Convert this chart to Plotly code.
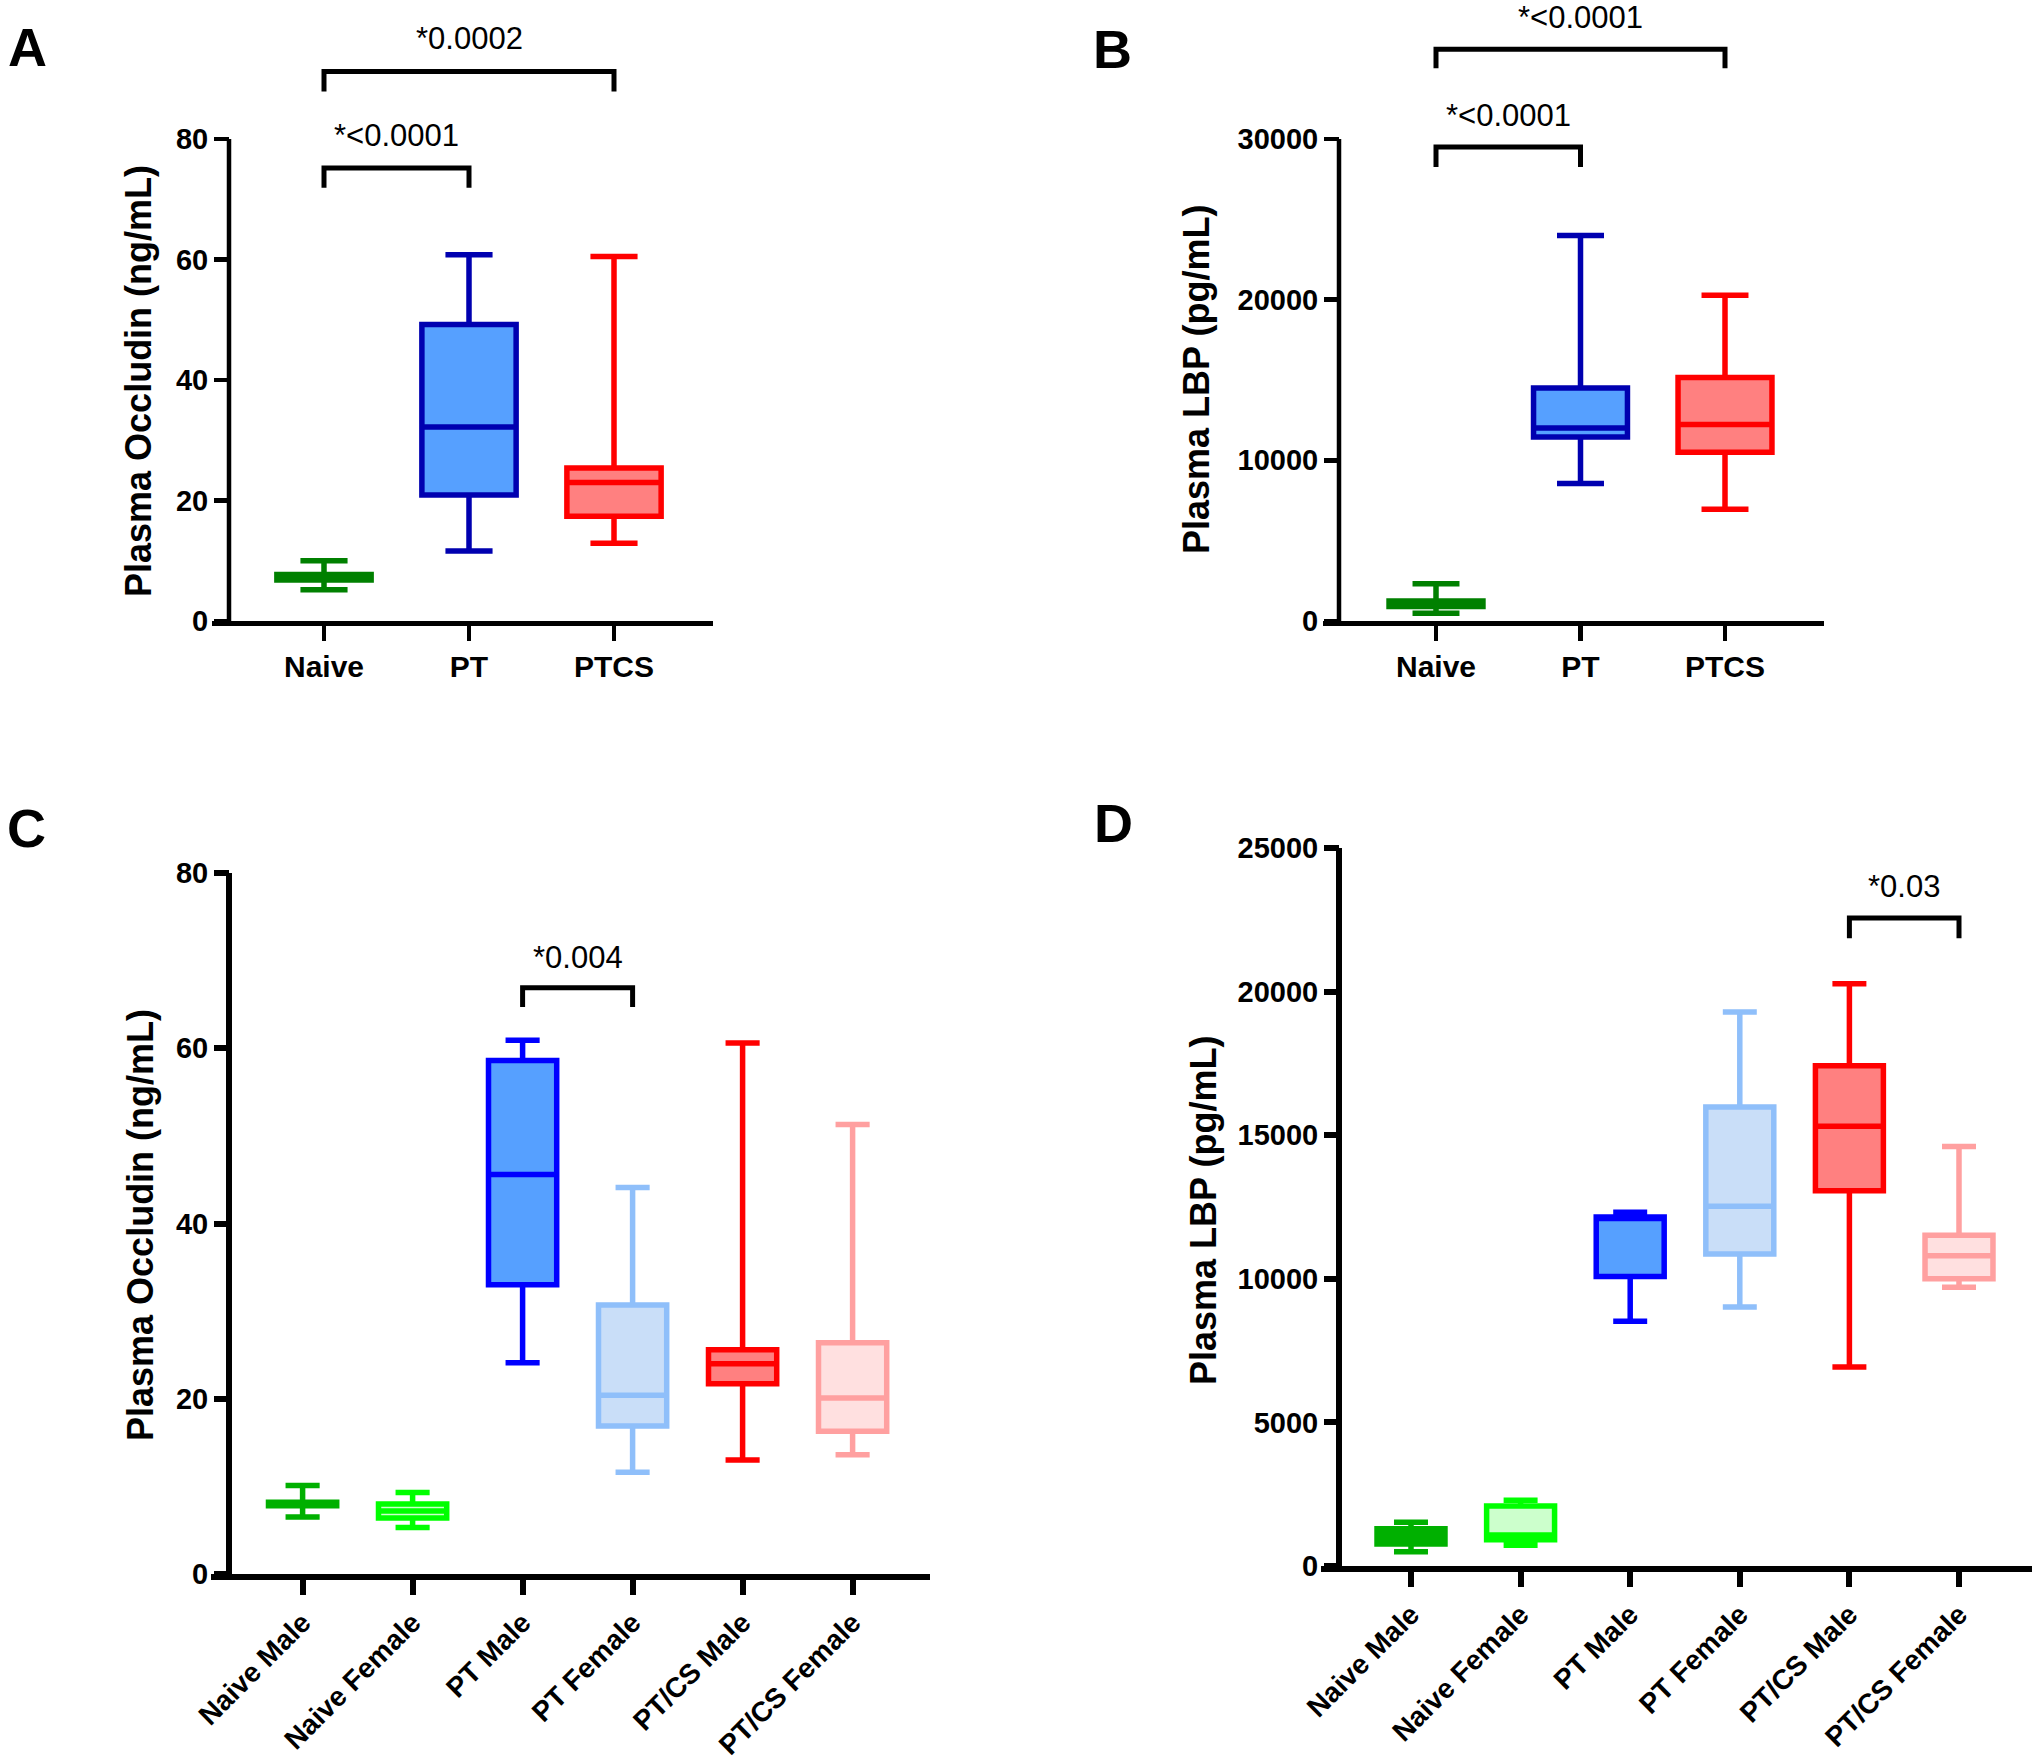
import plotly.graph_objects as go

# ---------------- DATA ----------------
A_categories = ["Naive", "PT", "PTCS"]
A_lower = [5.2, 11.6, 12.9]
A_q1 = [6.8, 20.9, 17.4]
A_median = [7.3, 32.2, 23.0]
A_q3 = [7.7, 49.2, 25.4]
A_upper = [10.0, 60.8, 60.5]
A_ticks = [0, 20, 40, 60, 80]
A_title = "Plasma Occludin (ng/mL)"
A_pairs = [(0, 2), (0, 1)]
A_pvals = ["*0.0002", "*<0.0001"]

B_categories = ["Naive", "PT", "PTCS"]
B_lower = [480, 8560, 6950]
B_q1 = [900, 11450, 10510]
B_median = [1050, 12010, 12230]
B_q3 = [1250, 14510, 15150]
B_upper = [2320, 23990, 20270]
B_ticks = [0, 10000, 20000, 30000]
B_title = "Plasma LBP (pg/mL)"
B_pairs = [(0, 2), (0, 1)]
B_pvals = ["*<0.0001", "*<0.0001"]

C_categories = ["Naive Male", "Naive Female", "PT Male", "PT Female", "PT/CS Male", "PT/CS Female"]
C_lower = [6.5, 5.3, 24.1, 11.6, 13.0, 13.6]
C_q1 = [7.8, 6.4, 33.0, 16.9, 21.7, 16.3]
C_median = [8.0, 7.2, 45.6, 20.4, 24.0, 20.1]
C_q3 = [8.2, 8.0, 58.6, 30.7, 25.6, 26.4]
C_upper = [10.1, 9.3, 60.9, 44.1, 60.6, 51.3]
C_ticks = [0, 20, 40, 60, 80]
C_title = "Plasma Occludin (ng/mL)"
C_pairs = [(2, 3)]
C_pvals = ["*0.004"]

D_categories = ["Naive Male", "Naive Female", "PT Male", "PT Female", "PT/CS Male", "PT/CS Female"]
D_lower = [500, 720, 8520, 9020, 6930, 9710]
D_q1 = [770, 910, 10080, 10860, 13070, 10000]
D_median = [1140, 1080, 12100, 12530, 15310, 10800]
D_q3 = [1300, 2090, 12150, 15980, 17420, 11520]
D_upper = [1520, 2290, 12320, 19290, 20270, 14610]
D_ticks = [0, 5000, 10000, 15000, 20000, 25000]
D_title = "Plasma LBP (pg/mL)"
D_pairs = [(4, 5)]
D_pvals = ["*0.03"]

# ---------------- STYLE / LAYOUT ----------------
W, H = 2040, 1761
FONT = "Liberation Sans, Arial, Helvetica, sans-serif"

col3_line = ["#008000", "#0000B0", "#FF0000"]
col3_fill = ["#008000", "#56A0FF", "#FF8080"]
col6_line = ["#00B000", "#00FF00", "#0000FF", "#8FBFFA", "#FF0000", "#FFA0A0"]
col6_fill = ["#00B000", "#CCFFCC", "#56A0FF", "#C9DEF8", "#FF8080", "#FFE0E0"]


def fx(px):
    return min(1.0, max(0.0, px / W))


def fy(py):
    return min(1.0, max(0.0, 1 - py / H))


panels = [
    dict(key="A", cats=A_categories, lo=A_lower, q1=A_q1, med=A_median, q3=A_q3, up=A_upper,
         ticks=A_ticks, title=A_title, pairs=A_pairs, pvals=A_pvals,
         lc=col3_line, fc=col3_fill, yax_px=229, xl=212, xr=713, c0=324, sp=145,
         y0=621, ytp=139, ytv=80, rtop=100, bw=0.65, lw=5.5, alw=4.5, rot=0, tfs=30,
         brk=[(91.2, 87.9, 96.6), (75.2, 71.9, 80.5)], ttl=(138, 381), letter=(27, 47)),
    dict(key="B", cats=B_categories, lo=B_lower, q1=B_q1, med=B_median, q3=B_q3, up=B_upper,
         ticks=B_ticks, title=B_title, pairs=B_pairs, pvals=B_pvals,
         lc=col3_line, fc=col3_fill, yax_px=1339, xl=1323, xr=1824, c0=1436, sp=144.5,
         y0=621, ytp=139, ytv=30000, rtop=38000, bw=0.65, lw=5.5, alw=4.5, rot=0, tfs=30,
         brk=[(35580, 34410, 37590), (29500, 28260, 31450)], ttl=(1197, 380), letter=(1112, 49)),
    dict(key="C", cats=C_categories, lo=C_lower, q1=C_q1, med=C_median, q3=C_q3, up=C_upper,
         ticks=C_ticks, title=C_title, pairs=C_pairs, pvals=C_pvals,
         lc=col6_line, fc=col6_fill, yax_px=229, xl=211, xr=929.5, c0=302.6, sp=110,
         y0=1574, ytp=873, ytv=80, rtop=82, bw=0.62, lw=5.5, alw=6, rot=-45, tfs=28,
         brk=[(66.9, 64.7, 70.4)], ttl=(140, 1225), letter=(26, 828)),
    dict(key="D", cats=D_categories, lo=D_lower, q1=D_q1, med=D_median, q3=D_q3, up=D_upper,
         ticks=D_ticks, title=D_title, pairs=D_pairs, pvals=D_pvals,
         lc=col6_line, fc=col6_fill, yax_px=1339, xl=1321, xr=2032, c0=1411, sp=109.6,
         y0=1566, ytp=848, ytv=25000, rtop=25500, bw=0.62, lw=5.5, alw=6, rot=-45, tfs=28,
         brk=[(22560, 21860, 23650)], ttl=(1203, 1211), letter=(1113, 823)),
]

fig = go.Figure()
shapes = []
annotations = []
layout_axes = {}

for i, p in enumerate(panels):
    n = i + 1
    xname = "x" if n == 1 else f"x{n}"
    yname = "y" if n == 1 else f"y{n}"
    xlay = "xaxis" if n == 1 else f"xaxis{n}"
    ylay = "yaxis" if n == 1 else f"yaxis{n}"

    for j, cat in enumerate(p["cats"]):
        fig.add_trace(go.Box(
            x=[cat], q1=[p["q1"][j]], median=[p["med"][j]], q3=[p["q3"][j]],
            lowerfence=[p["lo"][j]], upperfence=[p["up"][j]],
            width=p["bw"], whiskerwidth=0.5, boxpoints=False,
            line=dict(color=p["lc"][j], width=p["lw"]), fillcolor=p["fc"][j],
            xaxis=xname, yaxis=yname, showlegend=False, hoverinfo="skip",
        ))

    ppu = (p["y0"] - p["ytp"]) / p["ytv"]
    top_px = p["y0"] - p["rtop"] * ppu
    layout_axes[xlay] = dict(
        domain=[fx(p["xl"]), fx(p["xr"])], anchor=yname, type="category",
        categoryorder="array", categoryarray=p["cats"],
        range=[(p["xl"] - p["c0"]) / p["sp"], (p["xr"] - p["c0"]) / p["sp"]],
        showline=True, linecolor="black", linewidth=p["alw"], ticks="outside",
        ticklen=15, tickwidth=p["alw"], tickcolor="black", showgrid=False, zeroline=False,
        tickangle=p["rot"], fixedrange=True, automargin=False,
        tickfont=dict(family=FONT, size=p["tfs"], color="black", weight="bold"),
    )
    layout_axes[ylay] = dict(
        domain=[fy(p["y0"]), fy(top_px)], anchor="free", position=fx(p["yax_px"]),
        range=[0, p["rtop"]], tickvals=p["ticks"], tickformat="d",
        showline=False, ticks="outside", ticklen=15, tickwidth=p["alw"], tickcolor="black",
        showgrid=False, zeroline=False, fixedrange=True, automargin=False,
        tickfont=dict(family=FONT, size=29, color="black", weight="bold"),
    )
    # y axis line (only up to the top tick)
    shapes.append(dict(type="line", xref="paper", yref=yname,
                       x0=fx(p["yax_px"]), x1=fx(p["yax_px"]), y0=0, y1=p["ytv"],
                       line=dict(color="black", width=p["alw"])))
    # significance brackets
    for (a, b), txt, (yb, yd, yt) in zip(p["pairs"], p["pvals"], p["brk"]):
        shapes.append(dict(type="path", xref=xname, yref=yname,
                           path=f"M {a},{yd} L {a},{yb} L {b},{yb} L {b},{yd}",
                           line=dict(color="black", width=5)))
        annotations.append(dict(xref=xname, yref=yname, x=(a + b) / 2, y=yt, text=txt,
                                showarrow=False, xanchor="center", yanchor="middle",
                                font=dict(family=FONT, size=31, color="black")))
    # axis title
    annotations.append(dict(xref="paper", yref="paper", x=fx(p["ttl"][0]), y=fy(p["ttl"][1]),
                            text=p["title"], textangle=-90, showarrow=False,
                            xanchor="center", yanchor="middle",
                            font=dict(family=FONT, size=36, color="black", weight="bold")))
    # panel letter
    annotations.append(dict(xref="paper", yref="paper", x=fx(p["letter"][0]), y=fy(p["letter"][1]),
                            text=p["key"], showarrow=False, xanchor="center", yanchor="middle",
                            font=dict(family=FONT, size=54, color="black", weight="bold")))

fig.update_layout(
    width=W, height=H, margin=dict(l=0, r=0, t=0, b=0, autoexpand=False),
    paper_bgcolor="white", plot_bgcolor="white", boxmode="overlay",
    shapes=shapes, annotations=annotations, showlegend=False,
    **layout_axes,
)

# let the figure use the whole window (no default page margin / scrollbars)
fig.write_html(
    "out.html",
    config={"displayModeBar": False, "staticPlot": True},
    post_script="document.body.style.margin='0';document.body.style.overflow='hidden';",
)
